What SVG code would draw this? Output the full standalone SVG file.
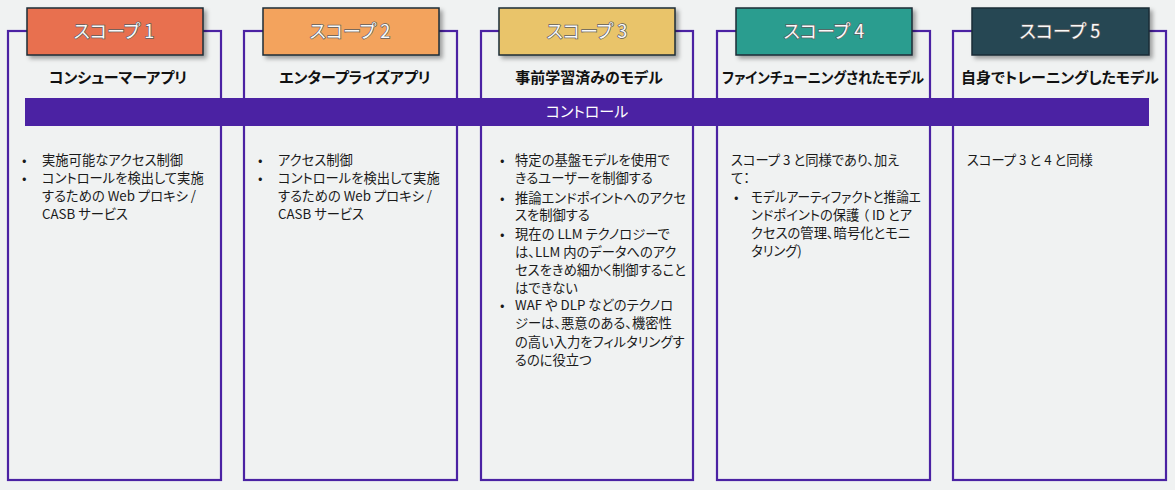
<svg xmlns="http://www.w3.org/2000/svg" width="1175" height="490" viewBox="0 0 1175 490">
<defs>
<filter id="sh" x="-10%" y="-20%" width="130%" height="160%">
<feDropShadow dx="3" dy="3" stdDeviation="2" flood-color="#000" flood-opacity="0.35"/>
</filter>
<style>
.frame{fill:none;stroke:#4b22a3;stroke-width:2.2}
.hdr{stroke:#1e2b37;stroke-width:1.5;filter:url(#sh)}
.ht{font-family:"Noto Sans CJK JP","Noto Sans",sans-serif;font-size:18px;fill:#fafafa;stroke:#5e5e5e;stroke-width:1.4;paint-order:stroke;text-anchor:middle;font-feature-settings:"palt"}
.sub{font-family:"Noto Sans CJK JP","Noto Sans",sans-serif;font-size:15px;font-weight:bold;fill:#111;text-anchor:middle;font-feature-settings:"palt"}
.bt{font-family:"Noto Sans CJK JP","Noto Sans",sans-serif;font-size:13.3px;fill:#1a1a1a;font-feature-settings:"palt"}
.bar{fill:#4b22a3}
.bart{font-family:"Noto Sans CJK JP","Noto Sans",sans-serif;font-size:15px;fill:#fff;text-anchor:middle;font-feature-settings:"palt"}
</style>
</defs>
<rect width="1175" height="490" fill="#f0f2f2"/>
<g id="connectors"/>
<g id="col1">
<rect class="frame" x="8" y="31" width="213" height="449"/>
<rect class="hdr" x="27" y="8" width="176" height="47" fill="#e8704f"/>
<text class="ht" x="114" y="38">スコープ 1</text>
<text class="sub" x="118" y="83">コンシューマーアプリ</text>
<text class="bt" x="22" y="165">•</text><text class="bt" x="42" y="165">実施可能なアクセス制御</text>
<text class="bt" x="22" y="183">•</text><text class="bt" x="42" y="183">コントロールを検出して実施</text>
<text class="bt" x="42" y="201">するための Web プロキシ /</text>
<text class="bt" x="42" y="219">CASB サービス</text>
</g>
<g id="col2">
<rect class="frame" x="244" y="31" width="213" height="449"/>
<rect class="hdr" x="263" y="8" width="176" height="47" fill="#f3a35d"/>
<text class="ht" x="350" y="38">スコープ 2</text>
<text class="sub" x="355" y="83">エンタープライズアプリ</text>
<text class="bt" x="258" y="165">•</text><text class="bt" x="278" y="165">アクセス制御</text>
<text class="bt" x="258" y="183">•</text><text class="bt" x="278" y="183">コントロールを検出して実施</text>
<text class="bt" x="278" y="201">するための Web プロキシ /</text>
<text class="bt" x="278" y="219">CASB サービス</text>
</g>
<g id="col3">
<rect class="frame" x="481" y="31" width="212" height="449"/>
<rect class="hdr" x="499" y="8" width="176" height="47" fill="#e9c46a"/>
<text class="ht" x="587" y="38">スコープ 3</text>
<text class="sub" x="589" y="83">事前学習済みのモデル</text>
<text class="bt" x="500" y="165">•</text><text class="bt" x="515" y="165">特定の基盤モデルを使用で</text>
<text class="bt" x="515" y="183">きるユーザーを制御する</text>
<text class="bt" x="500" y="203">•</text><text class="bt" x="515" y="203">推論エンドポイントへのアクセ</text>
<text class="bt" x="515" y="220">スを制御する</text>
<text class="bt" x="500" y="239">•</text><text class="bt" x="515" y="239">現在の LLM テクノロジーで</text>
<text class="bt" x="515" y="257">は、LLM 内のデータへのアク</text>
<text class="bt" x="515" y="275">セスをきめ細かく制御すること</text>
<text class="bt" x="515" y="293">はできない</text>
<text class="bt" x="500" y="310">•</text><text class="bt" x="515" y="310">WAF や DLP などのテクノロ</text>
<text class="bt" x="515" y="328">ジーは、悪意のある、機密性</text>
<text class="bt" x="515" y="347">の高い入力をフィルタリングす</text>
<text class="bt" x="515" y="365">るのに役立つ</text>
</g>
<g id="col4">
<rect class="frame" x="717" y="31" width="213" height="449"/>
<rect class="hdr" x="736" y="8" width="176" height="47" fill="#2a9d8f"/>
<text class="ht" x="824" y="38">スコープ 4</text>
<text class="sub" x="823" y="83" textLength="202" lengthAdjust="spacingAndGlyphs">ファインチューニングされたモデル</text>
<text class="bt" x="731" y="165">スコープ 3 と同様であり、加え</text>
<text class="bt" x="731" y="183">て：</text>
<text class="bt" x="734" y="202">•</text><text class="bt" x="751" y="202" textLength="170" lengthAdjust="spacingAndGlyphs">モデルアーティファクトと推論エ</text>
<text class="bt" x="751" y="220">ンドポイントの保護 （ ID とア</text>
<text class="bt" x="751" y="238">クセスの管理、暗号化とモニ</text>
<text class="bt" x="751" y="256">タリング)</text>
</g>
<g id="col5">
<rect class="frame" x="953" y="31" width="213" height="449"/>
<rect class="hdr" x="972" y="8" width="177" height="47" fill="#264653"/>
<text class="ht" x="1060" y="38">スコープ 5</text>
<text class="sub" x="1060" y="83">自身でトレーニングしたモデル</text>
<text class="bt" x="967" y="165">スコープ 3 と 4 と同様</text>
</g>
<g id="control">
<rect class="bar" x="25" y="98" width="1124" height="28"/>
<text class="bart" x="587" y="117">コントロール</text>
</g>
</svg>
